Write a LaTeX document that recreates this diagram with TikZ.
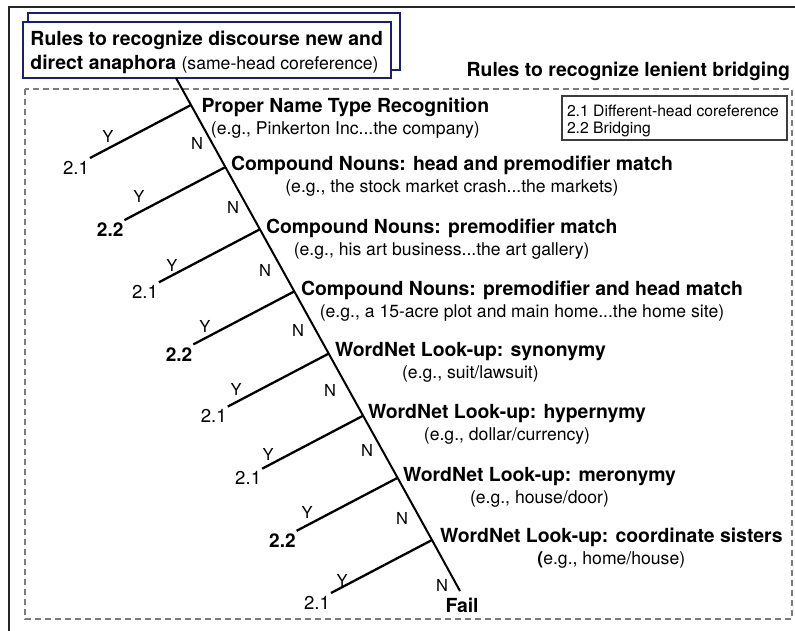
\documentclass[tikz,border=0pt]{standalone}
\usepackage{fontspec}
\setmainfont{TeX Gyre Heros}
\usetikzlibrary{calc}
\definecolor{hdrnavy}{HTML}{1E1E6E}
\definecolor{boxgray}{HTML}{7C7C7C}
\definecolor{legendgray}{HTML}{3C3C3C}
\newcommand\boldsz{\fontsize{19.4}{23}\selectfont\bfseries}
\newcommand\plainsz{\fontsize{17.6}{21}\selectfont\mdseries}
\tikzset{
  every node/.style={inner sep=0pt, outer sep=0pt},
  framestyle/.style={line width=1.5pt, black!85},
  dashbox/.style={draw=boxgray, line width=1.3pt, dash pattern=on 6pt off 4pt},
  hdrbox/.style={draw=hdrnavy, line width=2.6pt, fill=white, anchor=north west},
  legendbox/.style={draw=legendgray, line width=1.4pt, anchor=north west},
  boldtext/.style={font=\boldsz},
  plaintext/.style={font=\plainsz},
  ruletitle/.style={boldtext, anchor=base west},
  ruleex/.style={plaintext, anchor=base},
  leafplain/.style={font=\fontsize{18.6}{20}\selectfont, anchor=north east},
  leafbold/.style={font=\fontsize{19}{20}\selectfont\bfseries, anchor=north east},
  yn/.style={font=\fontsize{16.5}{18}\selectfont},
  trunk/.style={line width=2pt},
  branch/.style={line width=2.3pt},
  legendtext/.style={font=\fontsize{15.7}{18}\selectfont, anchor=base west},
}
\begin{document}
\begin{tikzpicture}[x=1pt,y=-1pt]
\useasboundingbox (0,0) rectangle (795,630);

% outer frame, running off the page to the right and bottom
\begin{scope}
  \clip (0,0) rectangle (795,630);
  \draw[framestyle] (9,640) -- (9,7) -- (805,7);
\end{scope}

% dashed region of the lenient bridging rules
\draw[dashbox] (25,89) rectangle (792,619);

% header: stacked boxes
\node[hdrbox, minimum width=372pt, minimum height=57pt] (hdrback) at (28,13) {};
\node[hdrbox, minimum width=368pt, minimum height=56pt] (hdrfront) at (23,22) {};
\node[boldtext, anchor=base west] (hdr1) at (30.5,45) {Rules to recognize discourse new and};
\node[boldtext, anchor=base west] (hdr2) at (30.5,69) {direct anaphora {\plainsz (same-head coreference)}};

\node[boldtext, anchor=base east] (lenient) at (790,76.5) {Rules to recognize lenient bridging};

% legend
\node[legendbox, minimum width=225pt, minimum height=44pt] (legend) at (562,96) {};
\node[legendtext] (leg1) at (567,116) {2.1 Different-head coreference};
\node[legendtext] (leg2) at (567,133.5) {2.2 Bridging};

% decision points along the trunk
\coordinate (top) at ($(hdrfront.south west)+(153,0)$);
\coordinate (b1) at (191,105);
\coordinate (b2) at (225.4,167.1);
\coordinate (b3) at (259.9,229.3);
\coordinate (b4) at (294.3,291.4);
\coordinate (b5) at (328.7,353.6);
\coordinate (b6) at (363.1,415.7);
\coordinate (b7) at (397.6,477.8);
\coordinate (b8) at (432,540);
\coordinate (failtip) at (460,591);

% ends of the Y branches
\coordinate (e1) at (90,158);
\coordinate (e2) at (124.4,220.1);
\coordinate (e3) at (158.9,282.3);
\coordinate (e4) at (193.3,344.4);
\coordinate (e5) at (227.7,406.6);
\coordinate (e6) at (262.1,468.7);
\coordinate (e7) at (296.6,530.8);
\coordinate (e8) at (331,593);

\draw[trunk] (top) -- (b1) -- (b2) -- (b3) -- (b4) -- (b5) -- (b6) -- (b7) -- (b8) -- (failtip);
\foreach \i in {1,...,8} { \draw[branch] (b\i) -- (e\i); }

% rules
\node[ruletitle] (t1) at (201.5,112) {Proper Name Type Recognition};
\node[ruleex] (x1) at ($(t1.base)+(0,22)$) {(e.g., Pinkerton Inc...the company)};
\node[ruletitle] (t2) at (231,170) {Compound Nouns: head and premodifier match};
\node[ruleex] (x2) at ($(t2.base)+(0,22)$) {(e.g., the stock market crash...the markets)};
\node[ruletitle] (t3) at (266,233) {Compound Nouns: premodifier match};
\node[ruleex] (x3) at ($(t3.base)+(0,22)$) {(e.g., his art business...the art gallery)};
\node[ruletitle] (t4) at (301,295) {Compound Nouns: premodifier and head match};
\node[ruleex] (x4) at ($(t4.base)+(0,22)$) {(e.g., a 15-acre plot and main home...the home site)};
\node[ruletitle] (t5) at (335,356) {WordNet Look-up: synonymy};
\node[ruleex] (x5) at ($(t5.base)+(0,22)$) {(e.g., suit/lawsuit)};
\node[ruletitle] (t6) at (368,418) {WordNet Look-up: hypernymy};
\node[ruleex] (x6) at ($(t6.base)+(0,22)$) {(e.g., dollar/currency)};
\node[ruletitle] (t7) at (403,481) {WordNet Look-up: meronymy};
\node[ruleex] (x7) at ($(t7.base)+(0,22)$) {(e.g., house/door)};
\node[ruletitle] (t8) at (440,542) {WordNet Look-up: coordinate sisters};
\node[ruleex] (x8) at ($(t8.base)+(0,22)$) {\textbf{(}e.g., home/house)};
\node[ruletitle] (fail) at (445.5,612) {Fail};

% outcomes
\node[leafplain] (o1) at ($(e1)+(-1,3)$) {2.1};
\node[leafbold]  (o2) at ($(e2)+(-1,3)$) {2.2};
\node[leafplain] (o3) at ($(e3)+(-1,3)$) {2.1};
\node[leafbold]  (o4) at ($(e4)+(-1,3)$) {2.2};
\node[leafplain] (o5) at ($(e5)+(-1,3)$) {2.1};
\node[leafplain] (o6) at ($(e6)+(-1,3)$) {2.1};
\node[leafbold]  (o7) at ($(e7)+(-1,3)$) {2.2};
\node[leafplain] (o8) at ($(e8)+(-1,3)$) {2.1};

% Y / N labels
\node[yn] (y1) at (108,136) {Y};
\node[yn] (y2) at (139,196) {Y};
\node[yn] (y3) at (172,265) {Y};
\node[yn] (y4) at (205,326) {Y};
\node[yn] (y5) at (236,389) {Y};
\node[yn] (y6) at (268,454) {Y};
\node[yn] (y7) at (307,512) {Y};
\node[yn] (y8) at (342,580) {Y};
\node[yn] (n1) at (197,143) {N};
\node[yn] (n2) at (233,207) {N};
\node[yn] (n3) at (265,270) {N};
\node[yn] (n4) at (298,330) {N};
\node[yn] (n5) at (330,390) {N};
\node[yn] (n6) at (367,450) {N};
\node[yn] (n7) at (402,518) {N};
\node[yn] (n8) at (442,585) {N};
\end{tikzpicture}
\end{document}
